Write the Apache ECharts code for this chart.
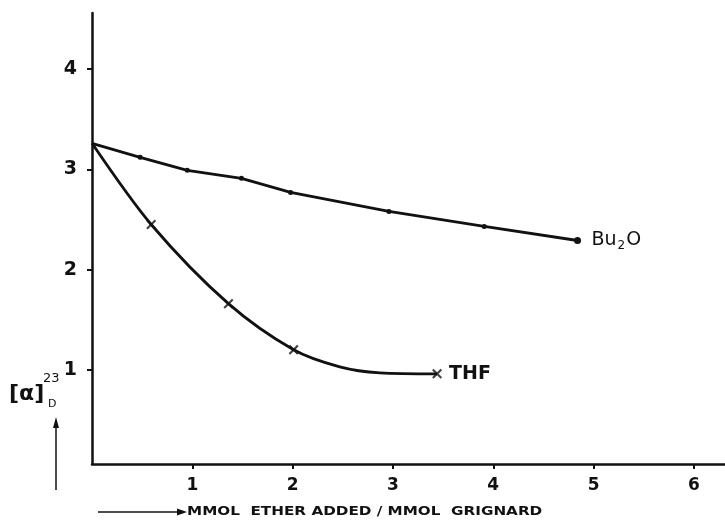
<!DOCTYPE html>
<html>
<head>
    <meta charset="utf-8">
    <title>Rotation vs ether added</title>
    <script type="text/javascript" src="https://cdn.jsdelivr.net/npm/echarts@6.0.0/dist/echarts.min.js"></script>
</head>
<body style="margin:0;background:#fff">
    <div id="main" style="width:725px;height:521px;"></div>
    <script type="text/javascript">
    // tick values
    var xTicks = [1, 2, 3, 4, 5, 6];
    var yTicks = [1, 2, 3, 4];

    // Bu2O: measured points (first one is the common start)
    var bu2oPoints = [[0, 3.26], [0.48, 3.12], [0.95, 2.99], [1.49, 2.91], [1.98, 2.77],
                      [2.96, 2.58], [3.91, 2.43], [4.84, 2.29]];
    // THF: marked points and the drawn curve through them
    var thfPoints = [[0.59, 2.45], [1.36, 1.66], [2.01, 1.20], [3.44, 0.96]];
    var thfCurve = [[0, 3.26], [0.59, 2.45], [1.36, 1.66], [2.01, 1.20], [2.47, 1.03],
                    [2.87, 0.97], [3.44, 0.96]];

    var ink = '#111';
    var crossPath = 'path://M0,1.5L1.5,0L5,3.5L8.5,0L10,1.5L6.5,5L10,8.5L8.5,10L5,6.5L1.5,10L0,8.5L3.5,5Z';

    var myChart = echarts.init(document.getElementById('main'));

    var bu2oData = bu2oPoints.map(function (p, i) {
        if (i === 0) return {value: p, symbol: 'none'};
        if (i === bu2oPoints.length - 1) return {value: p, symbolSize: 7};
        return {value: p};
    });

    var option = {
        backgroundColor: '#fff',
        animation: false,
        grid: {
            left: 92,
            right: 0,
            top: 13,
            bottom: 57,
            containLabel: false,
            outerBoundsMode: 'none'
        },
        xAxis: {
            type: 'value',
            min: 0,
            max: 6.31,
            interval: 1,
            axisLine: {lineStyle: {color: ink, width: 2.5}},
            axisTick: {show: true, length: 5, lineStyle: {color: ink, width: 2}, customValues: xTicks},
            axisLabel: {
                customValues: xTicks,
                margin: 13,
                color: ink,
                fontSize: 17,
                fontWeight: 'bold',
                fontFamily: 'DejaVu Sans'
            },
            splitLine: {show: false}
        },
        yAxis: {
            type: 'value',
            min: 0.06,
            max: 4.56,
            axisLine: {show: true, lineStyle: {color: ink, width: 2.5}},
            axisTick: {show: true, length: 5, lineStyle: {color: ink, width: 2}, customValues: yTicks},
            axisLabel: {
                customValues: yTicks,
                margin: 15,
                color: ink,
                fontSize: 19,
                fontWeight: 'bold',
                fontFamily: 'DejaVu Sans'
            },
            splitLine: {show: false}
        },
        series: [
            {
                name: 'Bu2O',
                type: 'line',
                data: bu2oData,
                symbol: 'circle',
                symbolSize: 5,
                showAllSymbol: true,
                itemStyle: {color: ink},
                lineStyle: {color: ink, width: 2.8},
                endLabel: {
                    show: true,
                    distance: 14,
                    formatter: '{a|Bu}{s|2}{a|O}',
                    rich: {
                        a: {fontSize: 19, fontFamily: 'DejaVu Sans', color: ink, lineHeight: 22},
                        s: {fontSize: 12, fontFamily: 'DejaVu Sans', color: ink, lineHeight: 14, verticalAlign: 'bottom', padding: [9, 1, 0, 1]}
                    }
                }
            },
            {
                name: 'THF',
                type: 'line',
                data: thfCurve,
                smooth: 0.3,
                symbol: 'none',
                lineStyle: {color: ink, width: 2.8},
                endLabel: {
                    show: true,
                    distance: 12,
                    formatter: 'THF',
                    color: ink,
                    fontSize: 19,
                    fontFamily: 'DejaVu Sans',
                    fontWeight: 'bold'
                }
            },
            {
                name: 'THF points',
                type: 'scatter',
                data: thfPoints,
                symbol: crossPath,
                symbolSize: 10,
                itemStyle: {color: ink}
            }
        ],
        graphic: [
            // y axis name [α]^23_D with arrow
            {type: 'text', left: 9, top: 383, style: {text: '[α]', font: 'bold 22px "DejaVu Sans"', fill: ink}},
            {type: 'text', left: 43, top: 372, style: {text: '23', font: '13px "DejaVu Sans"', fill: ink}},
            {type: 'text', left: 48, top: 399, style: {text: 'D', font: '11px "DejaVu Sans"', fill: ink}},
            {type: 'line', shape: {x1: 56, y1: 490, x2: 56, y2: 424}, style: {stroke: ink, lineWidth: 1.5}},
            {type: 'polygon', shape: {points: [[56, 417], [53, 428], [59, 428]]}, style: {fill: ink}},
            // x axis name with arrow
            {type: 'line', shape: {x1: 98, y1: 512, x2: 180, y2: 512}, style: {stroke: ink, lineWidth: 1.5}},
            {type: 'polygon', shape: {points: [[187, 512], [177, 508.5], [177, 515.5]]}, style: {fill: ink}},
            {type: 'text', x: 187, y: 512, scaleX: 1.17,
             style: {text: 'MMOL  ETHER ADDED / MMOL  GRIGNARD', font: 'bold 13px "DejaVu Sans"', fill: ink, verticalAlign: 'middle'}}
        ]
    };

    myChart.setOption(option);
    </script>
</body>
</html>
